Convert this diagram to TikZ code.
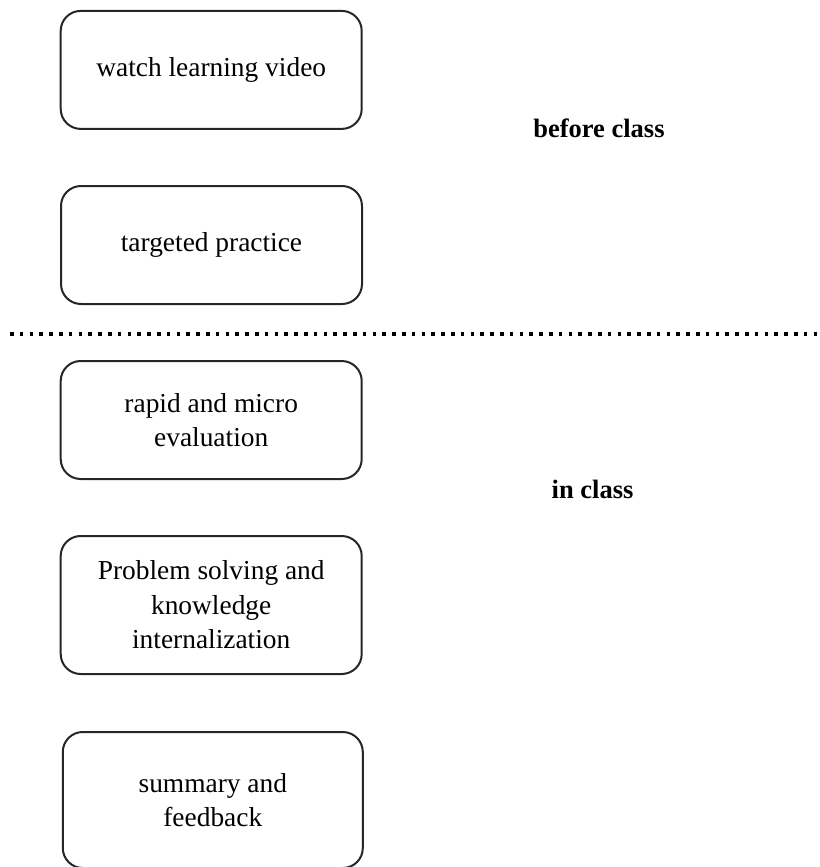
\documentclass[tikz,border=0pt]{standalone}
\usepackage{fontspec}
\setmainfont{Liberation Serif}
\begin{document}
\begin{tikzpicture}[x=1pt,y=-1pt,
  stepbox/.style={draw=black!85, line width=2pt, rounded corners=20pt,
    inner sep=0pt, minimum width=301pt, minimum height=118pt,
    align=center, font=\fontsize{27.4}{34.5}\selectfont},
  phase/.style={inner sep=0pt, anchor=base, font=\fontsize{26.5}{32}\selectfont\bfseries}]
\useasboundingbox (0,0) rectangle (819,867);
\node[stepbox] (b1) at (211.2,69.9) {watch learning video};
\node[stepbox] (b2) at (211.5,245) {targeted practice};
\node[stepbox] (b3) at (211.2,420) {rapid and micro\\evaluation};
\node[stepbox, minimum height=138pt] (b4) at (211.2,605) {Problem solving and\\knowledge\\internalization};
\node[stepbox, minimum width=300pt, minimum height=136pt] (b5) at (212.8,800) {summary and\\feedback};
\node[phase] (before) at (599,137) {before class};
\node[phase] (inclass) at (592.5,498) {in class};
\coordinate (dl) at (10,334);
\coordinate (dr) at (819,334);
\draw[line width=3.5pt, dash pattern=on 3.5pt off 6.3pt] (dl) -- (dr);
\end{tikzpicture}
\end{document}
